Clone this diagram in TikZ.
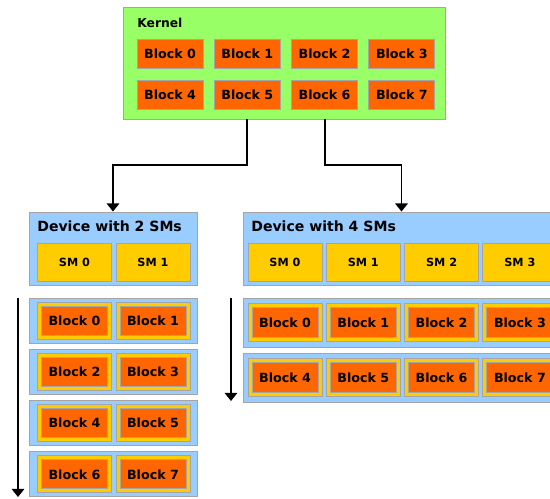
\documentclass[tikz,border=0pt]{standalone}
\usepackage{fontspec}
\setmainfont{DejaVu Sans}
\usetikzlibrary{arrows.meta}

\definecolor{kgreen}{RGB}{153,255,102}
\definecolor{borange}{RGB}{255,102,0}
\definecolor{smyellow}{RGB}{255,204,0}
\definecolor{devblue}{RGB}{153,204,255}
\definecolor{edgegray}{RGB}{165,165,165}

\tikzset{
  lined/.style={draw=edgegray, line width=0.5pt},
  kernelbox/.style={lined, fill=kgreen, minimum width=6.44cm, minimum height=2.24cm},
  blockbox/.style={lined, fill=borange, inner sep=0pt, minimum width=1.32cm, minimum height=0.57cm, font=\fontsize{7.2}{9}\selectfont\bfseries},
  devbox/.style={lined, fill=devblue, minimum height=1.46cm},
  smbox/.style={lined, fill=smyellow, inner sep=0pt, minimum width=1.48cm, minimum height=0.76cm, font=\fontsize{6.4}{8}\selectfont\bfseries},
  rowbox/.style={lined, fill=devblue},
  slotbox/.style={lined, fill=smyellow, minimum width=1.48cm, minimum height=0.77cm},
  label/.style={anchor=west, inner sep=0pt, font=\fontsize{8}{9}\selectfont\bfseries},
  arr/.style={line width=1.1pt, -{Triangle[width=7pt,length=4.6pt]}},
}

\begin{document}
\begin{tikzpicture}[x=0.02cm, y=-0.02cm]
  \useasboundingbox (0,0) rectangle (550,498);
  \clip (0,0) rectangle (550,498);

  % kernel
  \node[kernelbox] (kernel) at (284,63) {};
  \node[label, font=\fontsize{7}{9}\selectfont\bfseries] (klabel) at (137,23) {Kernel};
  \foreach \i in {0,...,3} {
    \pgfmathtruncatemacro\j{\i+4}
    \node[blockbox] (kb\i) at ({170+77.3*\i},54) {Block \i};
    \node[blockbox] (kb\j) at ({170+77.3*\i},95) {Block \j};
  }

  % device with 2 SMs
  \node[devbox, minimum width=3.36cm] (dev2) at (113,248.5) {};
  \node[label] (d2label) at (37,226) {Device with 2 SMs};
  \foreach \i in {0,1}
    \node[smbox] (d2sm\i) at ({74.5+78.5*\i},262) {SM \i};
  \foreach \r in {0,...,3} {
    \node[rowbox, minimum width=3.36cm, minimum height=0.9cm] (d2row\r) at (113,{320.5+51.3*\r}) {};
    \foreach \i in {0,1} {
      \pgfmathtruncatemacro\n{2*\r+\i}
      \node[slotbox, minimum height=0.74cm] (d2slot\n) at ({74.5+78.5*\i},{320.5+51.3*\r}) {};
      \node[blockbox, minimum height=0.58cm] (d2b\n) at (d2slot\n.center) {Block \n};
    }
  }
  \coordinate (d2top) at (18,298);
  \coordinate (d2end) at (18,497);

  % device with 4 SMs
  \node[devbox, minimum width=6.34cm] (dev4) at (401.5,248.5) {};
  \node[label] (d4label) at (251,226) {Device with 4 SMs};
  \foreach \i in {0,...,3}
    \node[smbox] (d4sm\i) at ({285+78.3*\i},262) {SM \i};
  \foreach \r in {0,1} {
    \node[rowbox, minimum width=6.34cm, minimum height=0.98cm] (d4row\r) at (401.5,{322.5+55*\r}) {};
    \foreach \i in {0,...,3} {
      \pgfmathtruncatemacro\n{4*\r+\i}
      \node[slotbox] (d4slot\n) at ({285+78.3*\i},{322.5+55*\r}) {};
      \node[blockbox, minimum height=0.6cm] (d4b\n) at (d4slot\n.center) {Block \n};
    }
  }
  \coordinate (d4top) at (231,298);
  \coordinate (d4end) at (231,401);

  % arrows
  \draw[arr] (kb5.center |- kernel.south) -- ++(0,46) -| (dev2.north);
  \draw[arr] (kb6.center |- kernel.south) -- ++(0,46) -| (dev4.north);
  \draw[arr] (d2top) -- (d2end);
  \draw[arr] (d4top) -- (d4end);
\end{tikzpicture}
\end{document}
